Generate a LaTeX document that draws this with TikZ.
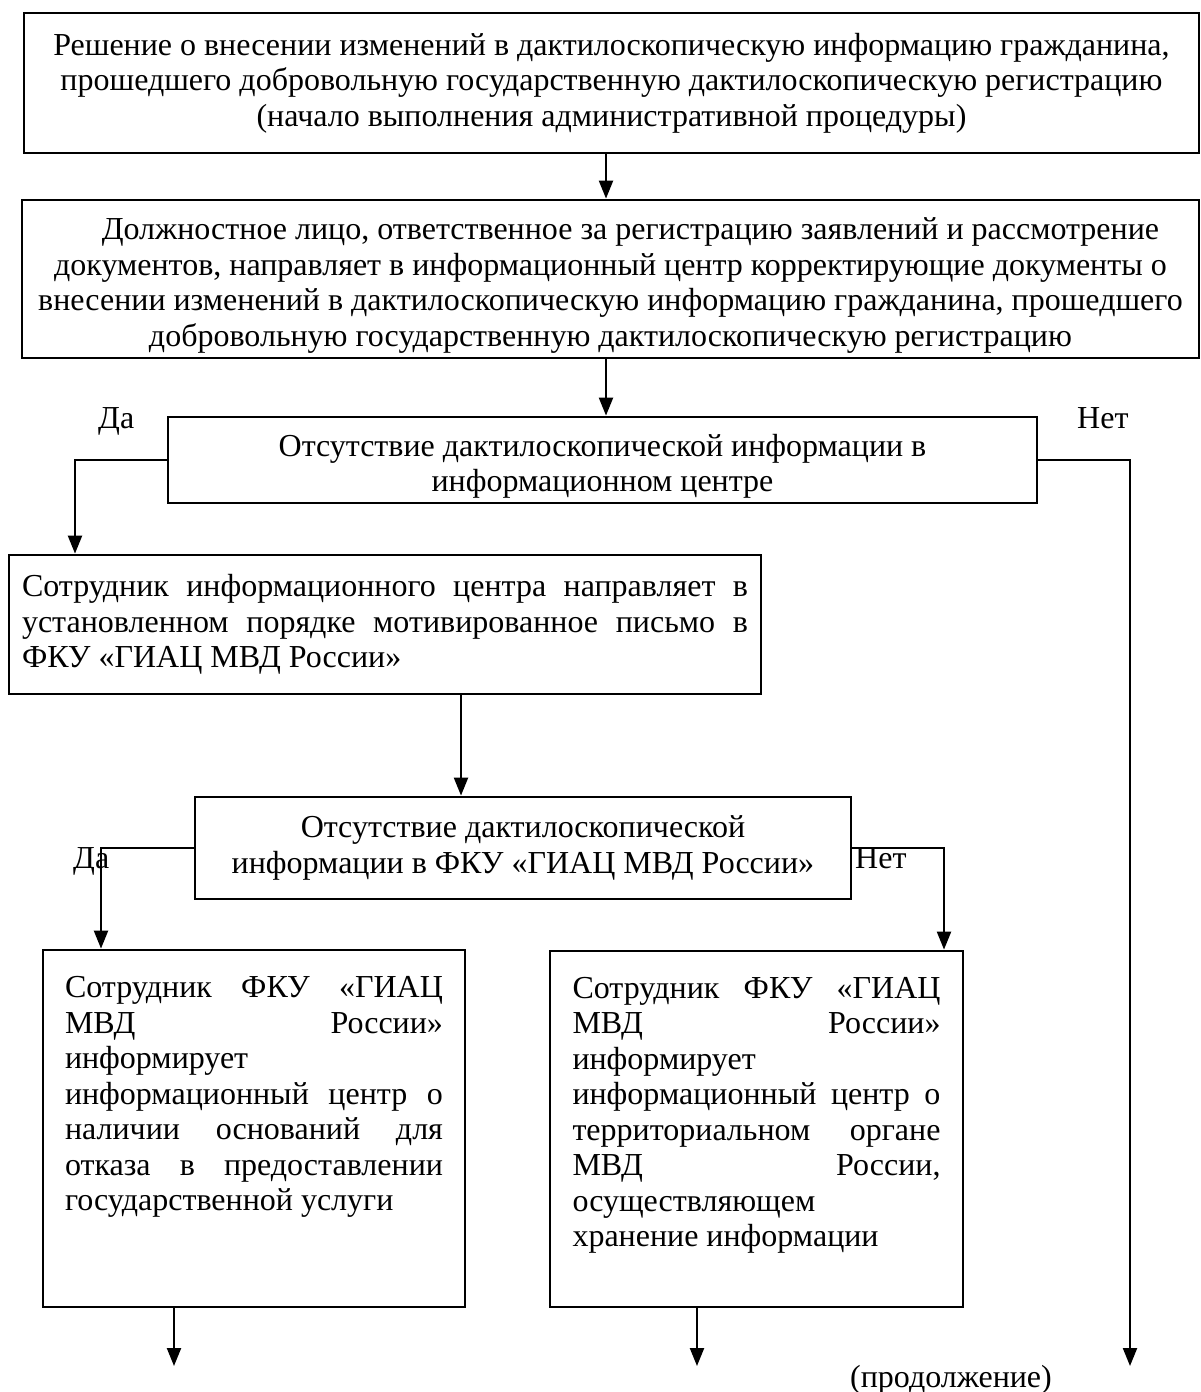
\documentclass[tikz,border=0pt]{standalone}
\usepackage{fontspec}
\setmainfont{Liberation Serif}
\usetikzlibrary{arrows.meta,calc}
\newcommand{\jline}[2]{\makebox[#1][s]{#2}}
\begin{document}
\begin{tikzpicture}[x=1pt,y=-1pt,
  txt/.style={font=\fontsize{32}{35.5}\selectfont},
  box/.style={txt, draw, line width=2.8pt, inner sep=0pt},
  conn/.style={line width=2.2pt},
  arr/.style={line width=2.2pt, -{Triangle[length=18pt,width=14pt]}},
  lbl/.style={txt, inner sep=0pt, anchor=base west}]
\useasboundingbox (0,0) rectangle (1201,1392);

% boxes
\node[box, minimum width=1175pt, minimum height=140pt, align=center] (b1) at (611.5,83)
  {Решение о внесении изменений в дактилоскопическую информацию гражданина,\\
   прошедшего добровольную государственную дактилоскопическую регистрацию\\
   (начало выполнения административной процедуры)};

\node[box, minimum width=1177pt, minimum height=158pt, align=center] (b2) at (610.5,279)
  {\rule{0pt}{35pt}\hspace*{40pt}Должностное лицо, ответственное за регистрацию заявлений и рассмотрение\\
   документов, направляет в информационный центр корректирующие документы о\\
   внесении изменений в дактилоскопическую информацию гражданина, прошедшего\\
   добровольную государственную дактилоскопическую регистрацию};

\node[box, minimum width=869pt, minimum height=86pt, align=center] (b3) at (602.5,460)
  {\rule{0pt}{35pt}Отсутствие дактилоскопической информации в\\ информационном центре};

\node[box, minimum width=752pt, minimum height=139pt] (b4) at (385,624.5)
  {\parbox{726pt}{\jline{726pt}{Сотрудник информационного центра направляет в}\\
   \jline{726pt}{установленном порядке мотивированное письмо в}\\
   ФКУ «ГИАЦ МВД России»}};

\node[box, minimum width=656pt, minimum height=102pt, align=center] (b5) at (523,848)
  {Отсутствие дактилоскопической\\ информации в ФКУ «ГИАЦ МВД России»};

\node[box, minimum width=422pt, minimum height=357pt] (b6) at (254,1128.5)
  {\parbox[c][350pt][t]{378pt}{\jline{378pt}{\rule{0pt}{44pt}Сотрудник ФКУ «ГИАЦ}\\
   \jline{378pt}{МВД России»}\\
   информирует\\
   \jline{378pt}{информационный центр о}\\
   \jline{378pt}{наличии оснований для}\\
   \jline{378pt}{отказа в предоставлении}\\
   государственной услуги}};

\node[box, minimum width=413pt, minimum height=356pt] (b7) at (756.5,1129)
  {\parbox[c][350pt][t]{368pt}{\jline{368pt}{\rule{0pt}{44pt}Сотрудник ФКУ «ГИАЦ}\\
   \jline{368pt}{МВД России»}\\
   информирует\\
   \jline{368pt}{информационный центр о}\\
   \jline{368pt}{территориальном органе}\\
   \jline{368pt}{МВД России,}\\
   осуществляющем\\
   хранение информации}};

% labels
\node[lbl] (da1) at (98,428) {Да};
\node[lbl] (net1) at (1077,428) {Нет};
\node[lbl] (da2) at (73,868) {Да};
\node[lbl] (net2) at (855,868) {Нет};
\node[txt, inner sep=0pt, anchor=base] (prod) at (951,1387) {(продолжение)};

% helper coordinates
\coordinate (xa) at (606,0);
\coordinate (xb) at (461,0);
\coordinate (xl1) at (75,0);
\coordinate (xr1) at (1130,0);
\coordinate (xl2) at (101,0);
\coordinate (xr2) at (944,0);
\coordinate (x6) at (174,0);
\coordinate (x7) at (697,0);
\coordinate (endy) at (0,1366);
\coordinate (e6) at (x6 |- endy);
\coordinate (e7) at (x7 |- endy);
\coordinate (er) at (xr1 |- endy);

% connectors
\draw[arr] (b1.south -| xa) -- (b2.north -| xa);
\draw[arr] (b2.south -| xa) -- (b3.north -| xa);
\draw[arr] (b3.west) -| (b4.north -| xl1);
\draw[arr] (b3.east) -| (er);
\draw[arr] (b4.south -| xb) -- (b5.north -| xb);
\draw[arr] (b5.west) -| (b6.north -| xl2);
\draw[arr] (b5.east) -| (b7.north -| xr2);
\draw[arr] (b6.south -| x6) -- (e6);
\draw[arr] (b7.south -| x7) -- (e7);
\end{tikzpicture}
\end{document}
